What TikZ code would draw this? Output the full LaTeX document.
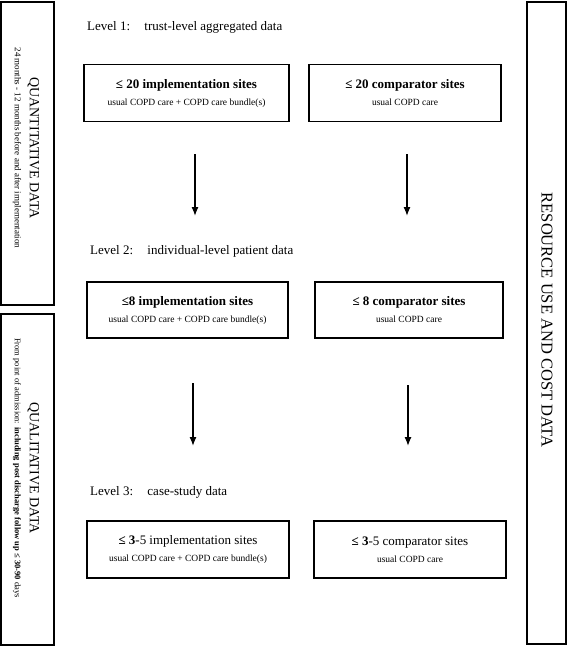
\documentclass[tikz,border=0pt]{standalone}
\usepackage{fontspec}
\setmainfont{Liberation Serif}
\usetikzlibrary{arrows.meta}
\tikzset{>={Latex[length=9pt,width=7pt]}}
\tikzset{
  panel/.style={draw, line width=1.4pt, inner sep=0pt},
  sitebox/.style={draw, line width=1.4pt, minimum height=57pt, align=center, inner sep=0pt},
  levlabel/.style={anchor=west, inner sep=0pt, font=\fontsize{13}{15}\selectfont},
}
\newcommand*{\sitetitle}{\fontsize{13}{15}\selectfont}
\newcommand*{\sitenote}{\fontsize{9.5}{11}\selectfont}

\begin{document}
\begin{tikzpicture}[x=1pt, y=-1pt]
    \useasboundingbox (0, 0) rectangle (567, 646);
    % side panels
    \node[panel, minimum width=53pt, minimum height=303pt] (quant) at (27.5, 153.5) {};
    \node[rotate=-90, align=center] (quanttxt) at (26, 148)
        {\fontsize{14}{17}\selectfont QUANTITATIVE DATA\\[3pt]
         \fontsize{9}{10}\selectfont 24 months - 12 months before and after implementation};
    \node[panel, minimum width=53pt, minimum height=331pt] (qual) at (27.5, 479.5) {};
    \node[rotate=-90, align=center] (qualtxt) at (26, 468)
        {\fontsize{14}{17}\selectfont QUALITATIVE DATA\\[3pt]
         \fontsize{8.5}{10}\selectfont From point of admission: \textbf{including post discharge follow up ≤ 30-90} days};
    \node[panel, minimum width=39pt, minimum height=642pt] (cost) at (546.5, 323) {};
    \node[rotate=-90] (costtxt) at (547, 320) {\fontsize{16.5}{19}\selectfont RESOURCE USE AND COST DATA};
    % level 1
    \node[levlabel] (lev1) at (87, 27) {Level 1:\hspace{1.1em}trust-level aggregated data};
    \node[sitebox, minimum width=205pt] (imp1) at (186.5, 93)
        {\sitetitle\bfseries ≤ 20 implementation sites\\[5pt] \sitenote usual COPD care + COPD care bundle(s)};
    \node[sitebox, minimum width=192pt] (cmp1) at (405, 93)
        {\sitetitle\bfseries ≤ 20 comparator sites\\[5pt] \sitenote usual COPD care};
    % level 2
    \node[levlabel] (lev2) at (90, 251) {Level 2:\hspace{1.1em}individual-level patient data};
    \node[sitebox, minimum width=201pt, minimum height=56pt] (imp2) at (187.5, 310)
        {\sitetitle\bfseries ≤8 implementation sites\\[5pt] \sitenote usual COPD care + COPD care bundle(s)};
    \node[sitebox, minimum width=188pt, minimum height=56pt] (cmp2) at (409, 310)
        {\sitetitle\bfseries ≤ 8 comparator sites\\[5pt] \sitenote usual COPD care};
    % level 3
    \node[levlabel] (lev3) at (90, 492) {Level 3:\hspace{1.1em}case-study data};
    \node[sitebox, minimum width=202pt] (imp3) at (188, 549.5)
        {\sitetitle\textbf{≤ 3}-5 implementation sites\\[5pt] \sitenote usual COPD care + COPD care bundle(s)};
    \node[sitebox, minimum width=192pt] (cmp3) at (410, 549.5)
        {\sitetitle\textbf{≤ 3}-5 comparator sites\\[5pt] \sitenote usual COPD care};
    % arrows between levels
    \coordinate (a1) at (195, 154);
    \coordinate (b1) at (195, 216);
    \coordinate (a2) at (407, 154);
    \coordinate (b2) at (407, 216);
    \coordinate (a3) at (193, 383);
    \coordinate (b3) at (193, 446);
    \coordinate (a4) at (408, 385);
    \coordinate (b4) at (408, 446);
    \draw[->, line width=1.3pt] (a1) -- (b1);
    \draw[->, line width=1.3pt] (a2) -- (b2);
    \draw[->, line width=1.3pt] (a3) -- (b3);
    \draw[->, line width=1.3pt] (a4) -- (b4);
\end{tikzpicture}
\end{document}
